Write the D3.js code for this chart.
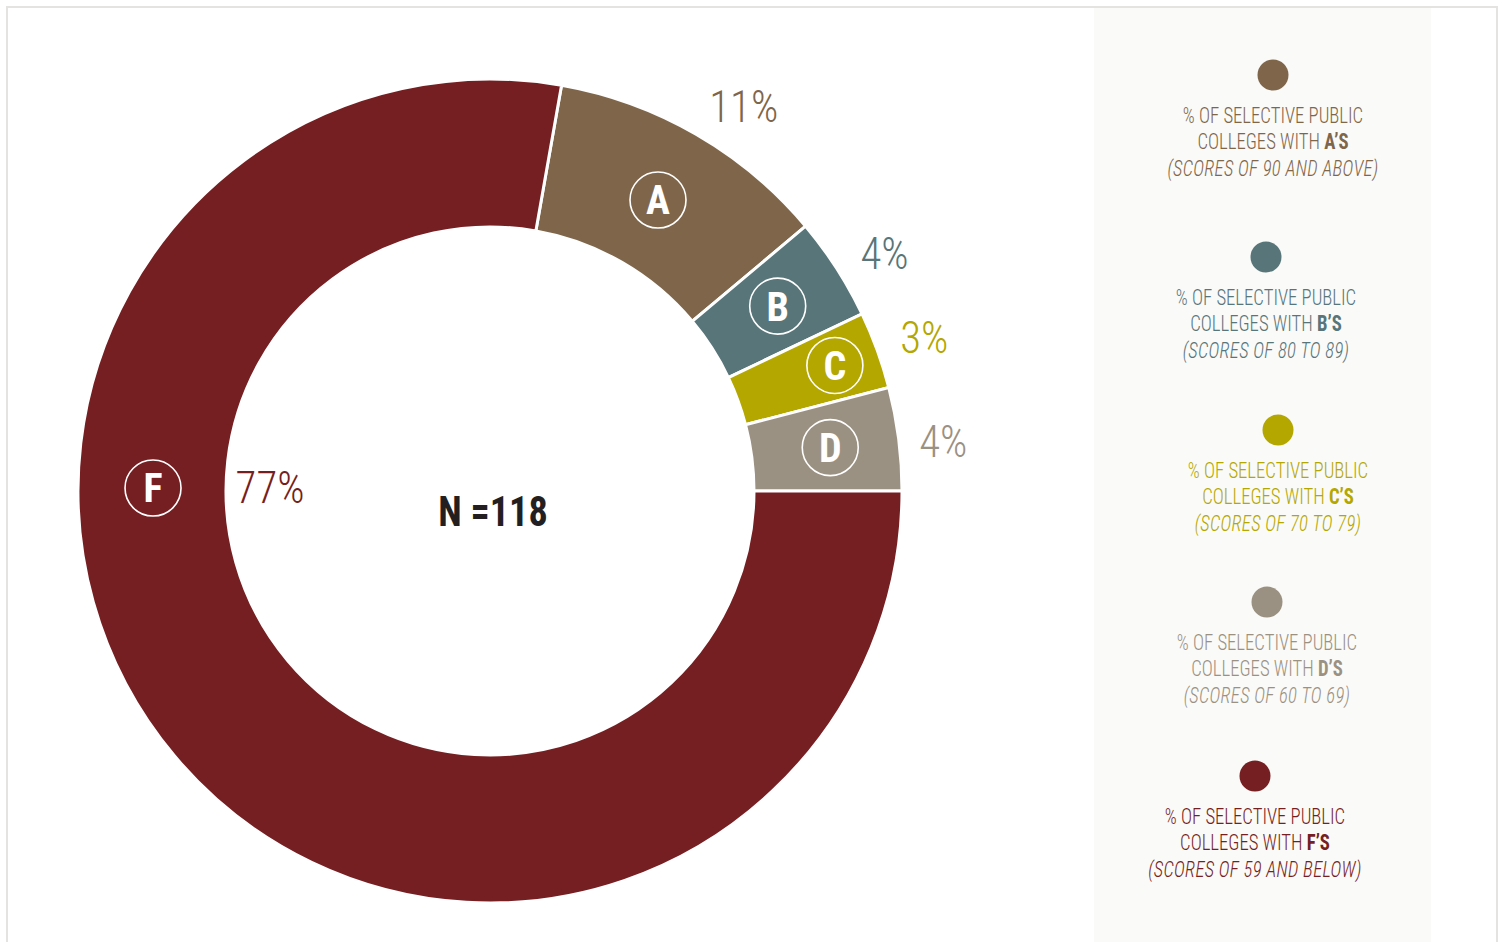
<!DOCTYPE html>
<html>
<head>
<meta charset="utf-8">
<script src="https://cdn.jsdelivr.net/npm/d3@7/dist/d3.min.js"></script>
<style>
  html, body { margin: 0; padding: 0; background: #fff; }
  svg { display: block; }
  .cond { font-family: "Roboto Condensed", "Liberation Sans Narrow", "DejaVu Sans Condensed", Roboto, sans-serif; font-stretch: condensed; }
</style>
</head>
<body>
<svg id="chart" width="1503" height="942"></svg>
<script>
// Grade distribution of selective public colleges
const grades = ["A", "B", "C", "D", "F"];
const percents = [11, 4, 3, 4, 77];
const colors = ["#7f664b", "#587579", "#b3a700", "#9b9182", "#761f22"];
const legendLine1 = "% OF SELECTIVE PUBLIC";
const legendLine2 = "COLLEGES WITH ";
const legendGrade = ["A’S", "B’S", "C’S", "D’S", "F’S"];
const legendRanges = [
  "(SCORES OF 90 AND ABOVE)",
  "(SCORES OF 80 TO 89)",
  "(SCORES OF 70 TO 79)",
  "(SCORES OF 60 TO 69)",
  "(SCORES OF 59 AND BELOW)"
];
const totalN = 118;

const svg = d3.select("#chart");
const W = 1503, H = 942;
const deg = Math.PI / 180;

// frame
svg.append("path")
  .attr("d", `M7,${H} V7 H1497 V${H}`)
  .attr("fill", "none").attr("stroke", "#e5e3df").attr("stroke-width", 2);

// legend panel
svg.append("rect").attr("x", 1094).attr("y", 8).attr("width", 337).attr("height", H - 8)
  .attr("fill", "#fafaf8");

const cx = 490, cy = 491;
const outerR = 412, innerR = 264;
const startOffset = 10 * deg;

const pie = d3.pie().sort(null).value(d => d)
  .startAngle(startOffset).endAngle(startOffset + 2 * Math.PI);
const arcs = pie(percents);

const arc = d3.arc().innerRadius(innerR).outerRadius(outerR);

const g = svg.append("g").attr("transform", `translate(${cx},${cy})`);

g.selectAll("path.slice").data(arcs).join("path")
  .attr("class", "slice")
  .attr("d", arc)
  .attr("fill", (d, i) => colors[i])
  .attr("stroke", "#fff").attr("stroke-width", 3);

// label angle: largest slice gets its badge on the left side
const maxIdx = d3.maxIndex(percents);
const labelAngle = (d, i) => i === maxIdx ? 270.5 * deg : (d.startAngle + d.endAngle) / 2;
const polar = (a, r) => [Math.sin(a) * r, -Math.cos(a) * r];
const badgeRadius = { A: 336, B: 342, C: 367, D: 343, F: 337 };
const pctNudge = { A: 3.4, B: 1.6, C: 0.4, D: 0.9, F: 0.5 };

const badges = g.selectAll("g.badge").data(arcs).join("g")
  .attr("class", "badge")
  .attr("transform", (d, i) => {
    const [x, y] = polar(labelAngle(d, i), badgeRadius[grades[i]]);
    return `translate(${x},${y})`;
  });
badges.append("circle").attr("r", 28).attr("fill", "none")
  .attr("stroke", "#fff").attr("stroke-width", 1.6);
badges.append("text").attr("class", "cond")
  .attr("text-anchor", "middle").attr("dy", "0.36em")
  .attr("font-size", 40).attr("font-weight", 700).attr("fill", "#fff")
  .text((d, i) => grades[i]);

// percentage labels
g.selectAll("text.pct").data(arcs).join("text")
  .attr("class", "pct cond")
  .attr("text-anchor", "middle").attr("dy", "0.36em")
  .attr("font-size", 45).attr("font-weight", 300)
  .attr("fill", (d, i) => colors[i])
  .attr("transform", (d, i) => {
    const a = labelAngle(d, i) + pctNudge[grades[i]] * deg;
    const [x, y] = polar(a, i === maxIdx ? 220 : (grades[i] === "D" ? 456 : 461));
    return `translate(${x},${y}) scale(0.95,1)`;
  })
  .text((d, i) => percents[i] + "%");

// sample size
g.append("text").attr("class", "cond")
  .attr("transform", "translate(3,20) scale(0.89,1)")
  .attr("dy", "0.36em")
  .attr("text-anchor", "middle")
  .attr("font-size", 43).attr("font-weight", 700).attr("fill", "#231f20")
  .text(`N =${totalN}`);

// legend
const legendCx = [1273, 1266, 1278, 1267, 1255];
const legendCy = [75, 257, 430, 602, 776];
const leg = svg.selectAll("g.leg").data(grades).join("g")
  .attr("class", "leg")
  .attr("transform", (d, i) => `translate(${legendCx[i]},${legendCy[i]})`);
leg.append("circle").attr("r", 15.5).attr("fill", (d, i) => colors[i]);
const lt = leg.append("text").attr("class", "cond")
  .attr("transform", "scale(0.87,1)")
  .attr("text-anchor", "middle").attr("font-size", 21.5).attr("font-weight", 300)
  .attr("fill", (d, i) => colors[i]);
lt.append("tspan").attr("x", 0).attr("y", 48).text(legendLine1);
const l2 = lt.append("tspan").attr("x", 0).attr("y", 74.5);
l2.append("tspan").text(legendLine2);
l2.append("tspan").attr("font-weight", 700).text((d, i) => legendGrade[i]);
lt.append("tspan").attr("x", 0).attr("y", 101).attr("font-style", "italic")
  .attr("letter-spacing", 0.35)
  .text((d, i) => legendRanges[i]);
</script>
</body>
</html>
